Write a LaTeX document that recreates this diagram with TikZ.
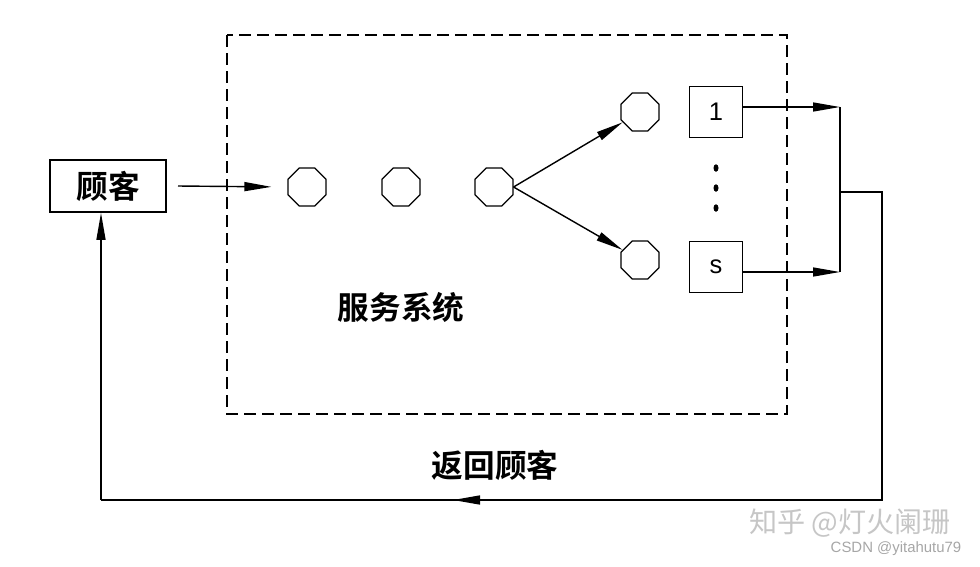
\documentclass[tikz,border=0pt]{standalone}
\usepackage{fontspec}
\newfontfamily\cjk{Noto Sans CJK SC}[BoldFont={Noto Sans CJK SC Bold}]
\setsansfont{Liberation Sans}
\usetikzlibrary{arrows.meta,shapes.geometric}

\begin{document}
\begin{tikzpicture}[x=0.2mm, y=-0.2mm,
    box/.style={draw, line width=1pt, inner sep=0pt, minimum width=10.6mm, minimum height=10.2mm, font=\sffamily\fontsize{14.5}{16}\selectfont},
    queue/.style={draw, regular polygon, regular polygon sides=8, minimum size=8.2mm, inner sep=0pt, line width=0.7pt},
    label/.style={font=\cjk\bfseries\fontsize{18}{20}\selectfont},
    arr/.style={-{Triangle[length=5.4mm, width=1.8mm]}, line width=0.8pt},
    wire/.style={line width=0.8pt}]
  \useasboundingbox (0,0) rectangle (980,566);
  % Service system frame
  \draw[line width=0.9pt, dash pattern=on 2.4mm off 1.2mm] (227,35) rectangle (787,414);
  \node[label] (system) at (401,307) {服务系统};
  % Customer
  \node[box, minimum width=23.2mm, minimum height=10.4mm, label] (customer) at (108,186) {顾客};
  % Queue
  \node[queue] (q1) at (307,187) {};
  \node[queue] (q2) at (401,187) {};
  \node[queue] (q3) at (494,187) {};
  \node[queue] (q4) at (640,112) {};
  \node[queue] (q5) at (640,260) {};
  % Servers
  \node[box] (server1) at (716,112) {1};
  \node[box] (servers) at (716,267) {s};
  \foreach \y in {168,188,208}
    \fill (716,\y) ellipse (0.5mm and 0.75mm);
  % Junctions
  \coordinate (in) at (178,186);
  \coordinate (j1) at (840,107);
  \coordinate (j2) at (840,272);
  \coordinate (jm) at (840,192);
  \coordinate (r1) at (882,192);
  \coordinate (r2) at (882,500);
  \coordinate (r3) at (101,500);
  \coordinate (ma) at (492,500);
  \coordinate (mb) at (453,500);

  \draw[arr, shorten >=3.2mm] (in) -- (q1.west);
  \draw[arr] (q3.east) -- (q4);
  \draw[arr] (q3.east) -- (q5);
  \draw[arr] (server1.east |- j1) -- (j1);
  \draw[arr] (servers.east |- j2) -- (j2);
  \draw[wire] (j1) -- (j2);
  \draw[wire] (jm) -- (r1) -- (r2) -- (r3);
  \draw[arr] (ma) -- (mb);
  \draw[arr] (r3) -- (customer.south -| r3);
  \node[label] (back) at (495,465) {返回顾客};
  % Watermarks
  \node[font=\cjk\fontsize{16}{18}\selectfont, text=gray!45] (zhihu) at (850,523) {知乎 @灯火阑珊};
  \node[font=\sffamily\fontsize{8.5}{10}\selectfont, text=gray!70] (csdn) at (896,549) {CSDN @yitahutu79};
\end{tikzpicture}
\end{document}
